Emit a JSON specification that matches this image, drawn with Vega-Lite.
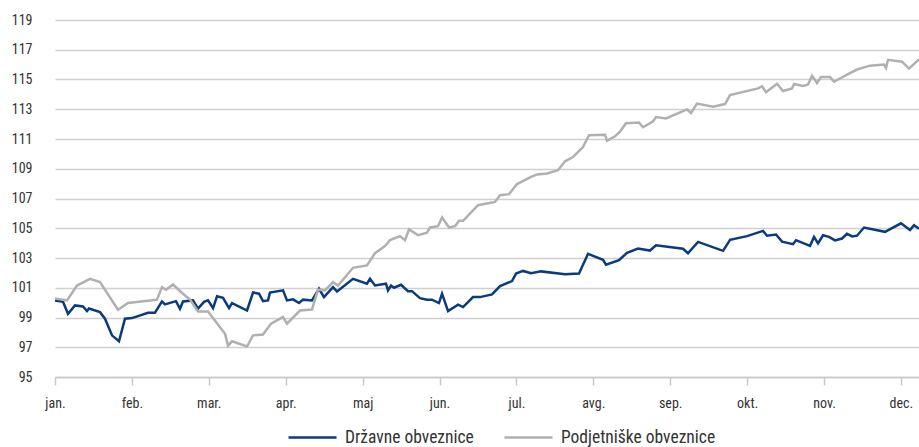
{
  "$schema": "https://vega.github.io/schema/vega-lite/v6.json",
  "width": 864,
  "height": 357,
  "autosize": {"type": "none"},
  "padding": {"left": 55, "top": 20, "right": 0, "bottom": 70},
  "background": "white",
  "config": {
    "view": {"stroke": null},
    "font": "Liberation Sans Narrow, Roboto Condensed, DejaVu Sans Condensed, Roboto, sans-serif",
    "axis": {"labelFont": "Liberation Sans Narrow, Roboto Condensed, DejaVu Sans Condensed, Roboto, sans-serif", "labelColor": "#333333", "labelFontSize": 14},
    "legend": {"labelFont": "Liberation Sans Narrow, Roboto Condensed, DejaVu Sans Condensed, Roboto, sans-serif", "labelColor": "#333333", "labelFontSize": 17.5}
  },
  "data": {
    "values": [
      {"m": 0, "v": 100.15, "s": "Državne obveznice"},
      {"m": 0.104, "v": 100.06, "s": "Državne obveznice"},
      {"m": 0.169, "v": 99.25, "s": "Državne obveznice"},
      {"m": 0.26, "v": 99.81, "s": "Državne obveznice"},
      {"m": 0.364, "v": 99.74, "s": "Državne obveznice"},
      {"m": 0.416, "v": 99.43, "s": "Državne obveznice"},
      {"m": 0.442, "v": 99.6, "s": "Državne obveznice"},
      {"m": 0.585, "v": 99.36, "s": "Državne obveznice"},
      {"m": 0.65, "v": 98.92, "s": "Državne obveznice"},
      {"m": 0.741, "v": 97.8, "s": "Državne obveznice"},
      {"m": 0.832, "v": 97.4, "s": "Državne obveznice"},
      {"m": 0.91, "v": 98.92, "s": "Državne obveznice"},
      {"m": 1.001, "v": 98.96, "s": "Državne obveznice"},
      {"m": 1.209, "v": 99.32, "s": "Državne obveznice"},
      {"m": 1.3, "v": 99.32, "s": "Državne obveznice"},
      {"m": 1.391, "v": 100.08, "s": "Državne obveznice"},
      {"m": 1.43, "v": 99.88, "s": "Državne obveznice"},
      {"m": 1.573, "v": 100.1, "s": "Državne obveznice"},
      {"m": 1.625, "v": 99.59, "s": "Državne obveznice"},
      {"m": 1.664, "v": 100.08, "s": "Državne obveznice"},
      {"m": 1.795, "v": 100.15, "s": "Državne obveznice"},
      {"m": 1.86, "v": 99.6, "s": "Državne obveznice"},
      {"m": 1.938, "v": 100.05, "s": "Državne obveznice"},
      {"m": 1.99, "v": 100.15, "s": "Državne obveznice"},
      {"m": 2.055, "v": 99.63, "s": "Državne obveznice"},
      {"m": 2.107, "v": 100.43, "s": "Državne obveznice"},
      {"m": 2.185, "v": 100.32, "s": "Državne obveznice"},
      {"m": 2.263, "v": 99.63, "s": "Državne obveznice"},
      {"m": 2.302, "v": 99.97, "s": "Državne obveznice"},
      {"m": 2.497, "v": 99.47, "s": "Državne obveznice"},
      {"m": 2.575, "v": 100.68, "s": "Državne obveznice"},
      {"m": 2.653, "v": 100.6, "s": "Državne obveznice"},
      {"m": 2.705, "v": 100.1, "s": "Državne obveznice"},
      {"m": 2.77, "v": 100.15, "s": "Državne obveznice"},
      {"m": 2.796, "v": 100.68, "s": "Državne obveznice"},
      {"m": 2.965, "v": 100.83, "s": "Državne obveznice"},
      {"m": 3.017, "v": 100.15, "s": "Državne obveznice"},
      {"m": 3.095, "v": 100.22, "s": "Državne obveznice"},
      {"m": 3.173, "v": 99.97, "s": "Državne obveznice"},
      {"m": 3.225, "v": 100.2, "s": "Državne obveznice"},
      {"m": 3.342, "v": 100.15, "s": "Državne obveznice"},
      {"m": 3.433, "v": 100.93, "s": "Državne obveznice"},
      {"m": 3.498, "v": 100.37, "s": "Državne obveznice"},
      {"m": 3.615, "v": 101.04, "s": "Državne obveznice"},
      {"m": 3.667, "v": 100.75, "s": "Državne obveznice"},
      {"m": 3.875, "v": 101.6, "s": "Državne obveznice"},
      {"m": 4.057, "v": 101.27, "s": "Državne obveznice"},
      {"m": 4.096, "v": 101.6, "s": "Državne obveznice"},
      {"m": 4.161, "v": 101.15, "s": "Državne obveznice"},
      {"m": 4.304, "v": 101.27, "s": "Državne obveznice"},
      {"m": 4.33, "v": 100.82, "s": "Državne obveznice"},
      {"m": 4.369, "v": 101.15, "s": "Državne obveznice"},
      {"m": 4.408, "v": 101.0, "s": "Državne obveznice"},
      {"m": 4.499, "v": 101.2, "s": "Državne obveznice"},
      {"m": 4.59, "v": 100.77, "s": "Državne obveznice"},
      {"m": 4.642, "v": 100.77, "s": "Državne obveznice"},
      {"m": 4.746, "v": 100.3, "s": "Državne obveznice"},
      {"m": 4.837, "v": 100.2, "s": "Državne obveznice"},
      {"m": 4.902, "v": 100.2, "s": "Državne obveznice"},
      {"m": 4.993, "v": 99.97, "s": "Državne obveznice"},
      {"m": 5.033, "v": 100.6, "s": "Državne obveznice"},
      {"m": 5.111, "v": 99.43, "s": "Državne obveznice"},
      {"m": 5.241, "v": 99.86, "s": "Državne obveznice"},
      {"m": 5.306, "v": 99.7, "s": "Državne obveznice"},
      {"m": 5.436, "v": 100.37, "s": "Državne obveznice"},
      {"m": 5.527, "v": 100.37, "s": "Državne obveznice"},
      {"m": 5.683, "v": 100.55, "s": "Državne obveznice"},
      {"m": 5.787, "v": 101.11, "s": "Državne obveznice"},
      {"m": 5.943, "v": 101.45, "s": "Državne obveznice"},
      {"m": 5.995, "v": 101.95, "s": "Državne obveznice"},
      {"m": 6.086, "v": 102.13, "s": "Državne obveznice"},
      {"m": 6.19, "v": 101.97, "s": "Državne obveznice"},
      {"m": 6.32, "v": 102.1, "s": "Državne obveznice"},
      {"m": 6.632, "v": 101.9, "s": "Državne obveznice"},
      {"m": 6.814, "v": 101.95, "s": "Državne obveznice"},
      {"m": 6.931, "v": 103.28, "s": "Državne obveznice"},
      {"m": 7.126, "v": 102.88, "s": "Državne obveznice"},
      {"m": 7.165, "v": 102.55, "s": "Državne obveznice"},
      {"m": 7.334, "v": 102.85, "s": "Državne obveznice"},
      {"m": 7.438, "v": 103.35, "s": "Državne obveznice"},
      {"m": 7.581, "v": 103.63, "s": "Državne obveznice"},
      {"m": 7.737, "v": 103.5, "s": "Državne obveznice"},
      {"m": 7.815, "v": 103.85, "s": "Državne obveznice"},
      {"m": 8.166, "v": 103.62, "s": "Državne obveznice"},
      {"m": 8.231, "v": 103.32, "s": "Državne obveznice"},
      {"m": 8.362, "v": 104.08, "s": "Državne obveznice"},
      {"m": 8.687, "v": 103.48, "s": "Državne obveznice"},
      {"m": 8.778, "v": 104.22, "s": "Državne obveznice"},
      {"m": 8.999, "v": 104.47, "s": "Državne obveznice"},
      {"m": 9.207, "v": 104.82, "s": "Državne obveznice"},
      {"m": 9.259, "v": 104.5, "s": "Državne obveznice"},
      {"m": 9.376, "v": 104.58, "s": "Državne obveznice"},
      {"m": 9.454, "v": 104.1, "s": "Državne obveznice"},
      {"m": 9.597, "v": 103.93, "s": "Državne obveznice"},
      {"m": 9.636, "v": 104.2, "s": "Državne obveznice"},
      {"m": 9.818, "v": 103.82, "s": "Državne obveznice"},
      {"m": 9.87, "v": 104.42, "s": "Državne obveznice"},
      {"m": 9.922, "v": 103.98, "s": "Državne obveznice"},
      {"m": 9.987, "v": 104.53, "s": "Državne obveznice"},
      {"m": 10.065, "v": 104.42, "s": "Državne obveznice"},
      {"m": 10.143, "v": 104.18, "s": "Državne obveznice"},
      {"m": 10.234, "v": 104.31, "s": "Državne obveznice"},
      {"m": 10.299, "v": 104.63, "s": "Državne obveznice"},
      {"m": 10.364, "v": 104.45, "s": "Državne obveznice"},
      {"m": 10.429, "v": 104.5, "s": "Državne obveznice"},
      {"m": 10.52, "v": 105.05, "s": "Državne obveznice"},
      {"m": 10.793, "v": 104.76, "s": "Državne obveznice"},
      {"m": 11.001, "v": 105.33, "s": "Državne obveznice"},
      {"m": 11.118, "v": 104.88, "s": "Državne obveznice"},
      {"m": 11.17, "v": 105.2, "s": "Državne obveznice"},
      {"m": 11.235, "v": 104.97, "s": "Državne obveznice"},
      {"m": 0, "v": 100.28, "s": "Podjetniške obveznice"},
      {"m": 0.156, "v": 100.15, "s": "Podjetniške obveznice"},
      {"m": 0.286, "v": 101.15, "s": "Podjetniške obveznice"},
      {"m": 0.455, "v": 101.6, "s": "Podjetniške obveznice"},
      {"m": 0.585, "v": 101.38, "s": "Podjetniške obveznice"},
      {"m": 0.819, "v": 99.52, "s": "Podjetniške obveznice"},
      {"m": 0.949, "v": 99.97, "s": "Podjetniške obveznice"},
      {"m": 1.235, "v": 100.15, "s": "Podjetniške obveznice"},
      {"m": 1.326, "v": 100.2, "s": "Podjetniške obveznice"},
      {"m": 1.391, "v": 101.04, "s": "Podjetniške obveznice"},
      {"m": 1.443, "v": 100.87, "s": "Podjetniške obveznice"},
      {"m": 1.534, "v": 101.22, "s": "Podjetniške obveznice"},
      {"m": 1.664, "v": 100.6, "s": "Podjetniške obveznice"},
      {"m": 1.755, "v": 100.2, "s": "Podjetniške obveznice"},
      {"m": 1.86, "v": 99.4, "s": "Podjetniške obveznice"},
      {"m": 1.99, "v": 99.4, "s": "Podjetniške obveznice"},
      {"m": 2.211, "v": 97.9, "s": "Podjetniške obveznice"},
      {"m": 2.25, "v": 97.11, "s": "Podjetniške obveznice"},
      {"m": 2.302, "v": 97.4, "s": "Podjetniške obveznice"},
      {"m": 2.497, "v": 97.05, "s": "Podjetniške obveznice"},
      {"m": 2.575, "v": 97.8, "s": "Podjetniške obveznice"},
      {"m": 2.705, "v": 97.85, "s": "Podjetniške obveznice"},
      {"m": 2.809, "v": 98.58, "s": "Podjetniške obveznice"},
      {"m": 2.965, "v": 99.03, "s": "Podjetniške obveznice"},
      {"m": 3.017, "v": 98.58, "s": "Podjetniške obveznice"},
      {"m": 3.186, "v": 99.47, "s": "Podjetniške obveznice"},
      {"m": 3.342, "v": 99.54, "s": "Podjetniške obveznice"},
      {"m": 3.42, "v": 100.87, "s": "Podjetniške obveznice"},
      {"m": 3.511, "v": 100.82, "s": "Podjetniške obveznice"},
      {"m": 3.615, "v": 101.38, "s": "Podjetniške obveznice"},
      {"m": 3.68, "v": 101.15, "s": "Podjetniške obveznice"},
      {"m": 3.875, "v": 102.34, "s": "Podjetniške obveznice"},
      {"m": 4.057, "v": 102.5, "s": "Podjetniške obveznice"},
      {"m": 4.161, "v": 103.32, "s": "Podjetniške obveznice"},
      {"m": 4.291, "v": 103.8, "s": "Podjetniške obveznice"},
      {"m": 4.356, "v": 104.2, "s": "Podjetniške obveznice"},
      {"m": 4.486, "v": 104.47, "s": "Podjetniške obveznice"},
      {"m": 4.551, "v": 104.2, "s": "Podjetniške obveznice"},
      {"m": 4.603, "v": 104.92, "s": "Podjetniške obveznice"},
      {"m": 4.72, "v": 104.54, "s": "Podjetniške obveznice"},
      {"m": 4.837, "v": 104.7, "s": "Podjetniške obveznice"},
      {"m": 4.876, "v": 105.05, "s": "Podjetniške obveznice"},
      {"m": 4.98, "v": 105.14, "s": "Podjetniške obveznice"},
      {"m": 5.033, "v": 105.72, "s": "Podjetniške obveznice"},
      {"m": 5.124, "v": 105.05, "s": "Podjetniške obveznice"},
      {"m": 5.202, "v": 105.14, "s": "Podjetniške obveznice"},
      {"m": 5.254, "v": 105.5, "s": "Podjetniške obveznice"},
      {"m": 5.306, "v": 105.5, "s": "Podjetniške obveznice"},
      {"m": 5.501, "v": 106.55, "s": "Podjetniške obveznice"},
      {"m": 5.722, "v": 106.77, "s": "Podjetniške obveznice"},
      {"m": 5.787, "v": 107.22, "s": "Podjetniške obveznice"},
      {"m": 5.904, "v": 107.29, "s": "Podjetniške obveznice"},
      {"m": 6.008, "v": 107.97, "s": "Podjetniške obveznice"},
      {"m": 6.177, "v": 108.42, "s": "Podjetniške obveznice"},
      {"m": 6.268, "v": 108.62, "s": "Podjetniške obveznice"},
      {"m": 6.398, "v": 108.68, "s": "Podjetniške obveznice"},
      {"m": 6.541, "v": 108.9, "s": "Podjetniške obveznice"},
      {"m": 6.632, "v": 109.5, "s": "Podjetniške obveznice"},
      {"m": 6.736, "v": 109.79, "s": "Podjetniške obveznice"},
      {"m": 6.866, "v": 110.46, "s": "Podjetniške obveznice"},
      {"m": 6.944, "v": 111.25, "s": "Podjetniške obveznice"},
      {"m": 7.152, "v": 111.29, "s": "Podjetniške obveznice"},
      {"m": 7.178, "v": 110.87, "s": "Podjetniške obveznice"},
      {"m": 7.282, "v": 111.18, "s": "Podjetniške obveznice"},
      {"m": 7.347, "v": 111.5, "s": "Podjetniške obveznice"},
      {"m": 7.425, "v": 112.06, "s": "Podjetniške obveznice"},
      {"m": 7.594, "v": 112.11, "s": "Podjetniške obveznice"},
      {"m": 7.646, "v": 111.79, "s": "Podjetniške obveznice"},
      {"m": 7.776, "v": 112.18, "s": "Podjetniške obveznice"},
      {"m": 7.815, "v": 112.48, "s": "Podjetniške obveznice"},
      {"m": 7.945, "v": 112.38, "s": "Podjetniške obveznice"},
      {"m": 8.218, "v": 112.99, "s": "Podjetniške obveznice"},
      {"m": 8.27, "v": 112.75, "s": "Podjetniške obveznice"},
      {"m": 8.348, "v": 113.38, "s": "Podjetniške obveznice"},
      {"m": 8.557, "v": 113.17, "s": "Podjetniške obveznice"},
      {"m": 8.713, "v": 113.35, "s": "Podjetniške obveznice"},
      {"m": 8.778, "v": 113.95, "s": "Podjetniške obveznice"},
      {"m": 9.142, "v": 114.4, "s": "Podjetniške obveznice"},
      {"m": 9.194, "v": 114.54, "s": "Podjetniške obveznice"},
      {"m": 9.246, "v": 114.14, "s": "Podjetniške obveznice"},
      {"m": 9.389, "v": 114.72, "s": "Podjetniške obveznice"},
      {"m": 9.467, "v": 114.23, "s": "Podjetniške obveznice"},
      {"m": 9.584, "v": 114.4, "s": "Podjetniške obveznice"},
      {"m": 9.61, "v": 114.7, "s": "Podjetniške obveznice"},
      {"m": 9.727, "v": 114.57, "s": "Podjetniške obveznice"},
      {"m": 9.792, "v": 114.67, "s": "Podjetniške obveznice"},
      {"m": 9.844, "v": 115.25, "s": "Podjetniške obveznice"},
      {"m": 9.909, "v": 114.77, "s": "Podjetniške obveznice"},
      {"m": 9.961, "v": 115.17, "s": "Podjetniške obveznice"},
      {"m": 10.078, "v": 115.17, "s": "Podjetniške obveznice"},
      {"m": 10.13, "v": 114.85, "s": "Podjetniške obveznice"},
      {"m": 10.299, "v": 115.33, "s": "Podjetniške obveznice"},
      {"m": 10.429, "v": 115.67, "s": "Podjetniške obveznice"},
      {"m": 10.598, "v": 115.93, "s": "Podjetniške obveznice"},
      {"m": 10.78, "v": 116.0, "s": "Podjetniške obveznice"},
      {"m": 10.806, "v": 115.77, "s": "Podjetniške obveznice"},
      {"m": 10.832, "v": 116.32, "s": "Podjetniške obveznice"},
      {"m": 11.014, "v": 116.2, "s": "Podjetniške obveznice"},
      {"m": 11.105, "v": 115.73, "s": "Podjetniške obveznice"},
      {"m": 11.235, "v": 116.35, "s": "Podjetniške obveznice"}
    ]
  },
  "mark": {"type": "line", "strokeWidth": 2.5, "strokeJoin": "miter", "clip": true},
  "encoding": {
    "x": {
      "field": "m",
      "type": "quantitative",
      "scale": {"domain": [0, 11.235], "nice": false, "zero": false},
      "axis": {
        "title": null,
        "values": [0, 1, 2, 3, 4, 5, 6, 7, 8, 9, 10, 11],
        "labelExpr": "['jan.','feb.','mar.','apr.','maj','jun.','jul.','avg.','sep.','okt.','nov.','dec.'][datum.value]",
        "grid": false,
        "domainColor": "#c8c8c8",
        "domainWidth": 1.5,
        "tickColor": "#c8c8c8",
        "tickWidth": 1.5,
        "tickSize": 8,
        "labelPadding": 11,
        "labelAlign": "center",
        "labelFlush": false
      }
    },
    "y": {
      "field": "v",
      "type": "quantitative",
      "scale": {"domain": [95, 119], "nice": false, "zero": false},
      "axis": {
        "title": null,
        "values": [95, 97, 99, 101, 103, 105, 107, 109, 111, 113, 115, 117, 119],
        "domain": false,
        "ticks": false,
        "labelPadding": 23,
        "gridColor": "#d0d0d0",
        "gridWidth": 1.5
      }
    },
    "color": {
      "field": "s",
      "type": "nominal",
      "scale": {"domain": ["Državne obveznice", "Podjetniške obveznice"], "range": ["#0a3b7c", "#b0b0b0"]},
      "legend": {
        "title": null,
        "orient": "none",
        "legendX": 232,
        "legendY": 392,
        "direction": "horizontal",
        "symbolType": "stroke",
        "symbolSize": 2304,
        "symbolStrokeWidth": 2.5,
        "labelOffset": 7,
        "columnPadding": 25
      }
    }
  }
}
